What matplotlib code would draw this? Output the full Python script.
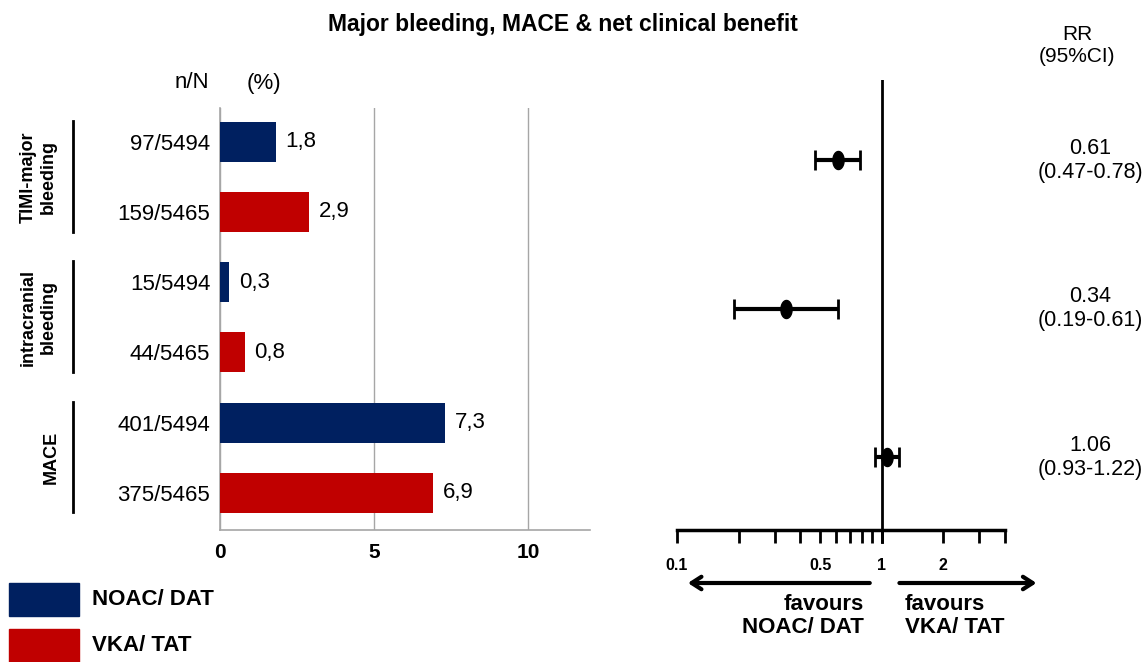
import numpy as np
import matplotlib
matplotlib.use("Agg")
import matplotlib.pyplot as plt
from matplotlib.transforms import blended_transform_factory
from matplotlib.path import Path

plt.rcParams['font.family'] = ['Liberation Sans', 'DejaVu Sans']

# ---------------- data ----------------
row_labels = ["97/5494", "159/5465", "15/5494", "44/5465", "401/5494", "375/5465"]
percent = [1.8, 2.9, 0.3, 0.8, 7.3, 6.9]
arms = ["NOAC/ DAT", "VKA/ TAT", "NOAC/ DAT", "VKA/ TAT", "NOAC/ DAT", "VKA/ TAT"]
groups = ["TIMI-major\nbleeding", "intracranial\nbleeding", "MACE"]
rr = [0.61, 0.34, 1.06]
rr_lo = [0.47, 0.19, 0.93]
rr_hi = [0.78, 0.61, 1.22]
bar_xticks = [0, 5, 10]
forest_ticks = [0.1, 0.2, 0.3, 0.4, 0.5, 0.6, 0.7, 0.8, 0.9, 1, 2, 3, 4]
forest_labeled = ["0.1", "0.5", "1", "2"]
arm_colors = {"NOAC/ DAT": "#002060", "VKA/ TAT": "#C00000"}

W, H = 1145, 662
fig = plt.figure(figsize=(W / 100, H / 100), dpi=100)


def fx(x):
    return x / W


def fy(y):
    return 1 - y / H


# ---------------- bar panel ----------------
ax = fig.add_axes([fx(220), fy(530), fx(590) - fx(220), fy(108) - fy(530)])
ypos = np.arange(len(percent))
cols = [arm_colors[a] for a in arms]
bars = ax.barh(ypos, percent, height=0.57, color=cols, zorder=3)
ax.bar_label(bars, labels=[f"{v:.1f}".replace('.', ',') for v in percent],
             padding=7, fontsize=16)
ax.set_xlim(0, 12)
ax.set_ylim(5.53, -0.48)
ax.set_yticks(ypos, row_labels, fontsize=16)
ax.set_xticks(bar_xticks, [str(t) for t in bar_xticks], fontsize=15, fontweight='bold')
ax.tick_params(axis='both', length=0)
ax.tick_params(axis='y', pad=7)
ax.tick_params(axis='x', pad=9)
ax.grid(axis='x', color='#A6A6A6', lw=1, zorder=0)
for s in ['top', 'right']:
    ax.spines[s].set_visible(False)
for s in ['left', 'bottom']:
    ax.spines[s].set_color('#A6A6A6')
    ax.spines[s].set_linewidth(1.2)

tr = blended_transform_factory(fig.transFigure, ax.transData)
group_x = [fx(38), fx(38), fx(51)]
for gi, g in enumerate(groups):
    c = 2 * gi + 0.5
    ax.plot([fx(73), fx(73)], [c - 0.8, c + 0.78], transform=tr, color='black',
            lw=2, clip_on=False)
    ax.text(group_x[gi], c, g, transform=tr, rotation=90, ha='center', va='center',
            fontsize=13, fontweight='bold', multialignment='center', linespacing=1.25)

fig.text(fx(192), fy(83), "n/N", fontsize=16, ha='center', va='center')
fig.text(fx(264), fy(83), "(%)", fontsize=16, ha='center', va='center')

# legend
for arm, (y0, y1) in zip(["NOAC/ DAT", "VKA/ TAT"], [(583, 616), (629, 662)]):
    fig.patches.append(plt.Rectangle((fx(9), fy(y1)), fx(79) - fx(9), fy(y0) - fy(y1),
                                     transform=fig.transFigure, color=arm_colors[arm]))
    fig.text(fx(92), fy((y0 + y1) / 2), arm, fontsize=16, fontweight='bold',
             ha='left', va='center')

# ---------------- forest panel ----------------
axf = fig.add_axes([fx(677), fy(530), fx(1005) - fx(677), fy(80) - fy(530)])
axf.set_xscale('log')
axf.set_xlim(0.1, 4)
axf.set_ylim(2.49, -0.54)
fpos = np.arange(len(rr))

theta = np.linspace(0, 2 * np.pi, 60)
ellipse = Path(np.column_stack([0.62 * np.cos(theta), np.sin(theta)]), closed=True)
rr_a = np.array(rr)
err = np.vstack([rr_a - np.array(rr_lo), np.array(rr_hi) - rr_a])
axf.errorbar(rr, fpos, xerr=err, fmt='none', ecolor='black', elinewidth=3,
             capsize=7, capthick=2, zorder=3)
axf.plot(rr, fpos, linestyle='none', marker=ellipse, markersize=13, color='black', zorder=4)

axf.axvline(1, color='black', lw=2, zorder=2)
axf.plot([1, 1], [2.49, 2.57], color='black', lw=2, clip_on=False)
for s in ['top', 'right', 'left']:
    axf.spines[s].set_visible(False)
axf.spines['bottom'].set_linewidth(2.5)
axf.set_yticks([])
axf.minorticks_off()
axf.set_xticks(forest_ticks,
               [f"{t:g}" if f"{t:g}" in forest_labeled else "" for t in forest_ticks],
               fontsize=11.5, fontweight='bold')
axf.minorticks_off()
axf.tick_params(axis='x', direction='out', length=9, width=2, pad=11)

trf = blended_transform_factory(fig.transFigure, axf.transData)
for i in range(len(rr)):
    axf.text(fx(1090), fpos[i], f"{rr[i]:.2f}\n({rr_lo[i]:.2f}-{rr_hi[i]:.2f})",
             transform=trf, ha='center', va='center', fontsize=15.5, linespacing=1.2)
fig.text(fx(1077), fy(46), "RR\n(95%CI)", fontsize=15, ha='center', va='center',
         linespacing=1.2)

arrow_kw = dict(arrowstyle='->,head_length=0.7,head_width=0.45', lw=3, color='black',
                shrinkA=0, shrinkB=0)
axf.annotate('', xy=(0.113, fy(583)), xytext=(0.874, fy(583)),
             xycoords=('data', 'figure fraction'), textcoords=('data', 'figure fraction'),
             arrowprops=arrow_kw, annotation_clip=False)
axf.annotate('', xy=(5.7, fy(583)), xytext=(1.22, fy(583)),
             xycoords=('data', 'figure fraction'), textcoords=('data', 'figure fraction'),
             arrowprops=arrow_kw, annotation_clip=False)
fig.text(fx(864), fy(616), "favours\nNOAC/ DAT", fontsize=16, fontweight='bold',
         ha='right', va='center', multialignment='right', linespacing=1.15)
fig.text(fx(905), fy(616), "favours\nVKA/ TAT", fontsize=16, fontweight='bold',
         ha='left', va='center', multialignment='left', linespacing=1.15)

fig.text(fx(563), fy(25), "Major bleeding, MACE & net clinical benefit", fontsize=16.5,
         fontweight='bold', ha='center', va='center')

fig.savefig("out.png", dpi=100)
